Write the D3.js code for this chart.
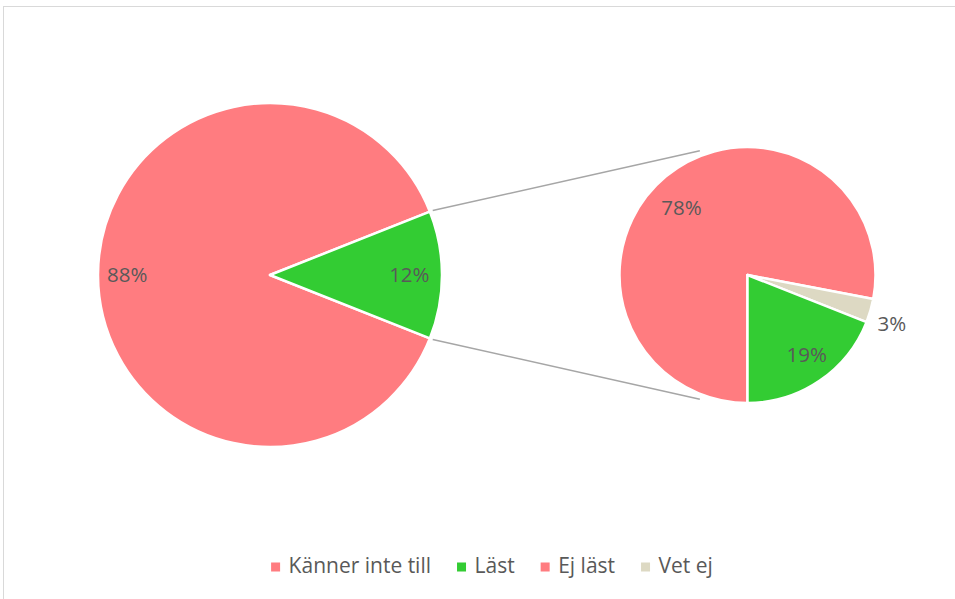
<!DOCTYPE html>
<html>
<head>
<meta charset="utf-8">
<script src="https://cdn.jsdelivr.net/npm/d3@7"></script>
<style>
  body { margin: 0; background: #fff; }
  text { font-family: "Open Sans", sans-serif; fill: #595959; }
</style>
</head>
<body>
<svg id="chart"></svg>
<script>
const width = 955;
const height = 599;

// main pie
const mainLabels = ['Känner inte till', 'Läst'];
const mainValues = [88, 12];
// secondary pie (breakdown of "Läst" share), drawn in this order clockwise from the bottom
const subLabels = ['Ej läst', 'Vet ej', 'Läst'];
const subValues = [78, 3, 19];
// legend
const legendLabels = ['Känner inte till', 'Läst', 'Ej läst', 'Vet ej'];
const legendColors = ['#FF7C80', '#33CC33', '#FF7C80', '#DDD9C3'];

const colors = {'Känner inte till': '#FF7C80', 'Läst': '#33CC33', 'Ej läst': '#FF7C80', 'Vet ej': '#DDD9C3'};

const svg = d3.select('#chart')
  .attr('width', width)
  .attr('height', height);

// chart frame (only top and left edges visible)
svg.append('rect')
  .attr('x', 3.5)
  .attr('y', 6.5)
  .attr('width', 1000)
  .attr('height', 700)
  .attr('fill', 'none')
  .attr('stroke', '#D9D9D9')
  .attr('stroke-width', 1);

const main = {cx: 270, cy: 275, r: 172};
const sub = {cx: 747.5, cy: 275, r: 128};

const deg = Math.PI / 180;
const mainShare = mainValues[1] / d3.sum(mainValues);
const mainStart = Math.PI / 2 + mainShare * Math.PI;

const mainPie = d3.pie().sort(null)
  .startAngle(mainStart)
  .endAngle(mainStart + 2 * Math.PI);
const subPie = d3.pie().sort(null)
  .startAngle(Math.PI)
  .endAngle(3 * Math.PI);

const mainData = mainPie(mainValues).map((d, i) => ({...d, label: mainLabels[i]}));
const subData = subPie(subValues).map((d, i) => ({...d, label: subLabels[i]}));

// connector lines from the "Läst" slice edges to the secondary pie
const greenSlice = mainData[1];
const subEdge = 21 * deg;
const connectors = [
  [greenSlice.startAngle, -subEdge],
  [greenSlice.endAngle, Math.PI + subEdge]
];
const pt = (c, r, a) => [c.cx + r * Math.sin(a), c.cy - r * Math.cos(a)];
svg.append('g').selectAll('line')
  .data(connectors)
  .join('line')
  .attr('x1', d => pt(main, main.r + 3, d[0])[0])
  .attr('y1', d => pt(main, main.r + 3, d[0])[1])
  .attr('x2', d => pt(sub, sub.r + 5, d[1])[0])
  .attr('y2', d => pt(sub, sub.r + 5, d[1])[1])
  .attr('stroke', '#A6A6A6')
  .attr('stroke-width', 1.5);

// label placement: [radius factor, angle offset in degrees]
function drawPie(c, data, labelPos) {
  const arc = d3.arc().innerRadius(0).outerRadius(c.r);
  const g = svg.append('g').attr('transform', `translate(${c.cx}, ${c.cy})`);
  g.selectAll('path')
    .data(data)
    .join('path')
    .attr('d', arc)
    .attr('fill', d => colors[d.label])
    .attr('stroke', '#fff')
    .attr('stroke-width', 2.5)
    .attr('stroke-linejoin', 'round');
  g.selectAll('text')
    .data(data)
    .join('text')
    .attr('transform', d => {
      const [rr, off] = labelPos[d.label];
      const a = (d.startAngle + d.endAngle) / 2 + off * deg;
      return `translate(${rr * c.r * Math.sin(a)}, ${-rr * c.r * Math.cos(a)})`;
    })
    .attr('text-anchor', 'middle')
    .attr('dy', '0.35em')
    .style('font-size', '20.5px')
    .text(d => `${d.value}%`);
}

drawPie(main, mainData, {'Känner inte till': [0.83, 0], 'Läst': [0.81, 0]});
drawPie(sub, subData, {'Ej läst': [0.735, -4.9], 'Läst': [0.777, -2.3], 'Vet ej': [1.19, 2.5]});

// legend
const legend = svg.append('g');
const items = legend.selectAll('g')
  .data(legendLabels)
  .join('g');
items.append('rect')
  .attr('width', 9)
  .attr('height', 9)
  .attr('y', -10)
  .attr('fill', (d, i) => legendColors[i]);
items.append('text')
  .attr('x', 17.5)
  .style('font-size', '21px')
  .text(d => d);

let xPos = 0;
const offsets = [];
items.each(function() {
  offsets.push(xPos);
  xPos += this.getBBox().width + 26;
});
const totalW = xPos - 26;
const legendX = 492 - totalW / 2;
items.attr('transform', (d, i) => `translate(${legendX + offsets[i]}, 572.5)`);
</script>
</body>
</html>
